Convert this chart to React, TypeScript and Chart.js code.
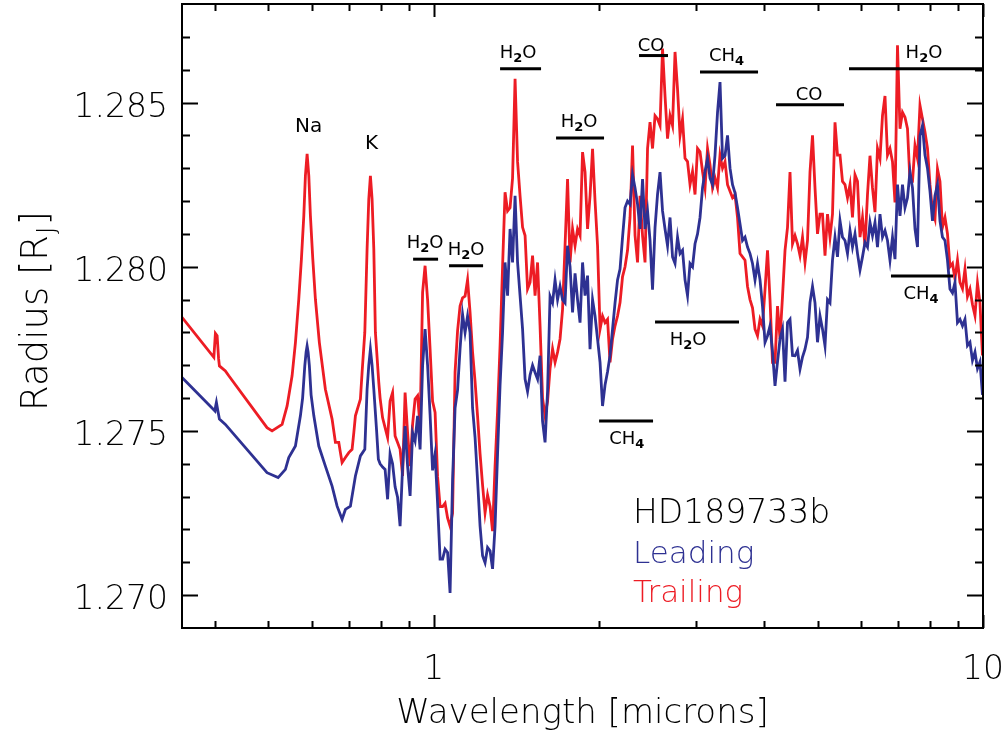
import React, { useEffect, useRef } from 'react';
import { Chart, registerables } from 'chart.js';

Chart.register(...registerables);

// ---------- DATA ----------
// Smooth optical part (microns, Jupiter radii)
const trailingSmoothWl = [0.348, 0.3977, 0.399, 0.4003, 0.4032, 0.4057, 0.4071, 0.4174, 0.4234, 0.497, 0.5077, 0.5185, 0.5295, 0.5407, 0.5521, 0.5599, 0.5678, 0.5741, 0.5799, 0.5838, 0.588, 0.5922, 0.5962, 0.6022, 0.6088, 0.619, 0.6348, 0.6529, 0.6621, 0.6715, 0.6761, 0.6809, 0.6904, 0.7003, 0.71, 0.7152, 0.72, 0.7352, 0.7404, 0.7489, 0.7561, 0.7615, 0.7667, 0.7721, 0.7777, 0.7829, 0.7941];
const trailingSmoothR = [1.27846, 1.27724, 1.2776, 1.27797, 1.2779, 1.2772, 1.27698, 1.27683, 1.27668, 1.2751, 1.275, 1.2751, 1.2752, 1.27576, 1.27668, 1.27769, 1.27901, 1.28023, 1.28155, 1.28277, 1.28344, 1.28277, 1.28155, 1.28023, 1.27901, 1.27769, 1.27627, 1.27536, 1.27465, 1.27465, 1.27434, 1.27404, 1.27419, 1.27434, 1.27444, 1.27495, 1.27546, 1.27597, 1.27678, 1.278, 1.28054, 1.28206, 1.28277, 1.28206, 1.28054, 1.278, 1.27648];

const leadingSmoothWl = [0.348, 0.3996, 0.4007, 0.402, 0.4046, 0.4071, 0.4174, 0.497, 0.5207, 0.5369, 0.5445, 0.5599, 0.5717, 0.577, 0.5823, 0.5855, 0.588, 0.5905, 0.5936, 0.5979, 0.6048, 0.6175, 0.6348, 0.6529, 0.6668, 0.6809, 0.6904, 0.705, 0.72, 0.7352, 0.7489, 0.7561, 0.7615, 0.7667, 0.7721, 0.7777, 0.7869, 0.7927];
const leadingSmoothR = [1.27663, 1.27561, 1.27575, 1.27587, 1.2756, 1.27536, 1.2752, 1.27373, 1.27358, 1.27383, 1.27419, 1.27454, 1.27546, 1.276, 1.27698, 1.2774, 1.27759, 1.2774, 1.27698, 1.2761, 1.27546, 1.27454, 1.27393, 1.27332, 1.27271, 1.27231, 1.27261, 1.27271, 1.27363, 1.27424, 1.27444, 1.27627, 1.277, 1.27749, 1.277, 1.27627, 1.275, 1.27414];

// Infrared part, shared wavelength grid (microns)
const gridWl = [
  0.7985, 0.8069, 0.8154, 0.8240, 0.8326, 0.8414, 0.8503, 0.8592, 0.8683, 0.8774, 0.8867, 0.8960,
  0.9055, 0.9150, 0.9246, 0.9344, 0.9442, 0.9542, 0.9642, 0.9744, 0.9846, 0.9950, 1.0055, 1.0161,
  1.0268, 1.0376, 1.0485, 1.0596, 1.0707, 1.0820, 1.0934, 1.1049, 1.1165, 1.1283, 1.1402, 1.1522,
  1.1643, 1.1766, 1.1890, 1.2015, 1.2142, 1.2270, 1.2399, 1.2530, 1.2662, 1.2795, 1.2930, 1.3066,
  1.3204, 1.3343, 1.3483, 1.3626, 1.3769, 1.3914, 1.4061, 1.4209, 1.4358, 1.4510, 1.4663, 1.4817,
  1.4973, 1.5131, 1.5290, 1.5451, 1.5614, 1.5778, 1.5945, 1.6113, 1.6282, 1.6454, 1.6627, 1.6803,
  1.6979, 1.7158, 1.7339, 1.7522, 1.7706, 1.7893, 1.8081, 1.8272, 1.8464, 1.8659, 1.8855, 1.9054,
  1.9254, 1.9457, 1.9662, 1.9870, 2.0079, 2.0290, 2.0504, 2.0720, 2.0938, 2.1159, 2.1382, 2.1607,
  2.1834, 2.2065, 2.2297, 2.2532, 2.2769, 2.3009, 2.3252, 2.3497, 2.3744, 2.3994, 2.4247, 2.4503,
  2.4760, 2.5021, 2.5285, 2.5551, 2.5820, 2.6092, 2.6367, 2.6645, 2.6925, 2.7209, 2.7496, 2.7786,
  2.8078, 2.8374, 2.8673, 2.8975, 2.9280, 2.9589, 2.9900, 3.0216, 3.0533, 3.0855, 3.1180, 3.1509,
  3.1840, 3.2176, 3.2515, 3.2858, 3.3203, 3.3553, 3.3907, 3.4264, 3.4625, 3.4990, 3.5358, 3.5731,
  3.6107, 3.6487, 3.6872, 3.7261, 3.7652, 3.8049, 3.8450, 3.8856, 3.9264, 3.9678, 4.0096, 4.0519,
  4.0945, 4.1377, 4.1813, 4.2253, 4.2698, 4.3148, 4.3603, 4.4062, 4.4526, 4.4995, 4.5469, 4.5948,
  4.6432, 4.6921, 4.7415, 4.7915, 4.8419, 4.8930, 4.9445, 4.9966, 5.0492, 5.1024, 5.1562, 5.2105,
  5.2653, 5.3208, 5.3769, 5.4336, 5.4907, 5.5486, 5.6071, 5.6662, 5.7258, 5.7861, 5.8471, 5.9087,
  5.9709, 6.0338, 6.0974, 6.1616, 6.2264, 6.2921, 6.3584, 6.4254, 6.4930, 6.5614, 6.6306, 6.7004,
  6.7709, 6.8423, 6.9144, 6.9873, 7.0608, 7.1352, 7.2104, 7.2864, 7.3630, 7.4406, 7.5191, 7.5983,
  7.6782, 7.7591, 7.8409, 7.9235, 8.0069, 8.0913, 8.1766, 8.2627, 8.3496, 8.4377, 8.5266, 8.6164,
  8.7071, 8.7988, 8.8916, 8.9854, 9.0798, 9.1755, 9.2722, 9.3700, 9.4685, 9.5683, 9.6691, 9.7710,
  9.8738, 9.9779,
];

const trailingR = [
  1.27600, 1.27540, 1.27510, 1.27480, 1.27591, 1.27617, 1.27485, 1.27465, 1.27444, 1.27363, 1.27617, 1.27495,
  1.27393, 1.27520, 1.27597, 1.27607, 1.27515, 1.27922, 1.28003, 1.27900, 1.27750, 1.27590, 1.27556, 1.27360,
  1.27270, 1.27270, 1.27280, 1.27235, 1.27210, 1.27250, 1.27680, 1.27805, 1.27880, 1.27905, 1.27910, 1.27960,
  1.27861, 1.27740, 1.27650, 1.27545, 1.27430, 1.27335, 1.27251, 1.27305, 1.27270, 1.27195, 1.27393, 1.27560,
  1.27760, 1.28000, 1.28227, 1.28170, 1.28180, 1.28270, 1.28572, 1.28320, 1.28216, 1.28120, 1.28095, 1.27932,
  1.27952, 1.28034, 1.27912, 1.28013, 1.27820, 1.27600, 1.27546, 1.27590, 1.27690, 1.27750, 1.27709, 1.27740,
  1.27780, 1.27870, 1.28064, 1.28267, 1.28013, 1.28115, 1.28064, 1.28115, 1.28095, 1.28349, 1.28288, 1.28115,
  1.28216, 1.28359, 1.28200, 1.28064, 1.27810, 1.27850, 1.27830, 1.27840, 1.27709, 1.27780, 1.27820, 1.27850,
  1.27891, 1.27970, 1.28000, 1.28050, 1.28150, 1.28369, 1.28095, 1.28013, 1.28216, 1.28095, 1.28013, 1.28360,
  1.28440, 1.28360, 1.28460, 1.28450, 1.28430, 1.28664, 1.28520, 1.28390, 1.28460, 1.28430, 1.28654, 1.28540,
  1.28400, 1.28450, 1.28330, 1.28320, 1.28250, 1.28290, 1.28220, 1.28360, 1.28350, 1.28290, 1.28240, 1.28360,
  1.28310, 1.28240, 1.28270, 1.28240, 1.28340, 1.28300, 1.28320, 1.28250, 1.28230, 1.28210, 1.28220, 1.28150,
  1.28040, 1.28030, 1.28020, 1.27940, 1.27900, 1.27875, 1.27810, 1.27790, 1.27840, 1.27820, 1.27930, 1.28050,
  1.27900, 1.27709, 1.27709, 1.27880, 1.27780, 1.27910, 1.28050, 1.28120, 1.28288, 1.28070, 1.28095, 1.28070,
  1.28034, 1.28090, 1.28013, 1.28080, 1.28288, 1.28400, 1.28240, 1.28100, 1.28160, 1.28160, 1.28034, 1.28160,
  1.28090, 1.28160, 1.28440, 1.28340, 1.28340, 1.28260, 1.28250, 1.28210, 1.28250, 1.28150, 1.28280, 1.28260,
  1.28090, 1.28150, 1.28064, 1.28220, 1.28338, 1.28240, 1.28166, 1.28360, 1.28330, 1.28460, 1.28520, 1.28340,
  1.28360, 1.28320, 1.28196, 1.28674, 1.28420, 1.28470, 1.28455, 1.28420, 1.28260, 1.28260, 1.28369, 1.28330,
  1.28491, 1.28450, 1.28410, 1.28360, 1.28250, 1.28170, 1.28145, 1.28298, 1.28260, 1.28120, 1.28150, 1.28100,
  1.28000, 1.28010, 1.27963, 1.28020, 1.27952, 1.27933, 1.27993, 1.27910, 1.27932, 1.27885, 1.27851, 1.27950,
  1.27890, 1.27730,
];

const leadingR = [
  1.27400, 1.27390, 1.27383, 1.27292, 1.27430, 1.27400, 1.27330, 1.27298, 1.27210, 1.27390, 1.27515, 1.27393,
  1.27302, 1.27495, 1.27470, 1.27546, 1.27444, 1.27698, 1.27810, 1.27700, 1.27550, 1.27380, 1.27430, 1.27280,
  1.27110, 1.27110, 1.27140, 1.27130, 1.27007, 1.27350, 1.27570, 1.27624, 1.27750, 1.27855, 1.27800, 1.27850,
  1.27800, 1.27570, 1.27480, 1.27350, 1.27210, 1.27120, 1.27099, 1.27145, 1.27135, 1.27080, 1.27210, 1.27430,
  1.27640, 1.27800, 1.28013, 1.27912, 1.28115, 1.28013, 1.28216, 1.28013, 1.27912, 1.27810, 1.27658, 1.27620,
  1.27670, 1.27700, 1.27678, 1.27658, 1.27729, 1.27530, 1.27465, 1.27620, 1.27910, 1.27890, 1.27960, 1.27900,
  1.27940, 1.27900, 1.27890, 1.28064, 1.28000, 1.27861, 1.27980, 1.27900, 1.27830, 1.28013, 1.27912, 1.27973,
  1.27749, 1.27900, 1.27850, 1.27780, 1.27709, 1.27576, 1.27640, 1.27680, 1.27730, 1.27810, 1.27890, 1.27960,
  1.27993, 1.28090, 1.28180, 1.28200, 1.28190, 1.28280, 1.28240, 1.28190, 1.28115, 1.28267, 1.28115, 1.28170,
  1.28080, 1.27930, 1.28120, 1.28220, 1.28288, 1.28170, 1.28115, 1.28064, 1.28150, 1.28030, 1.28010, 1.28090,
  1.28040, 1.28050, 1.27960, 1.27912, 1.28010, 1.28000, 1.28070, 1.28100, 1.28150, 1.28240, 1.28290, 1.28330,
  1.28270, 1.28250, 1.28340, 1.28470, 1.28562, 1.28330, 1.28338, 1.28400, 1.28300, 1.28250, 1.28225, 1.28180,
  1.28130, 1.28080, 1.28090, 1.28060, 1.28040, 1.28010, 1.27960, 1.28010, 1.27960, 1.27880, 1.27770, 1.27790,
  1.27820, 1.27740, 1.27637, 1.27710, 1.27780, 1.27810, 1.27650, 1.27830, 1.27840, 1.27730, 1.27729, 1.27745,
  1.27688, 1.27725, 1.27749, 1.27785, 1.27891, 1.27940, 1.27890, 1.27770, 1.27850, 1.27810, 1.27759, 1.27900,
  1.27890, 1.28020, 1.28090, 1.28030, 1.28140, 1.28090, 1.28080, 1.28040, 1.28110, 1.28060, 1.28100, 1.28040,
  1.27990, 1.28030, 1.28074, 1.28060, 1.28135, 1.28095, 1.28135, 1.28060, 1.28160, 1.28090, 1.28110, 1.28080,
  1.28020, 1.28090, 1.28023, 1.28250, 1.28155, 1.28250, 1.28180, 1.28210, 1.28290, 1.28240, 1.28115, 1.28060,
  1.28399, 1.28430, 1.28340, 1.28300, 1.28230, 1.28140, 1.28216, 1.28250, 1.28140, 1.28090, 1.28080, 1.28020,
  1.27932, 1.27920, 1.27952, 1.27830, 1.27840, 1.27820, 1.27840, 1.27760, 1.27770, 1.27715, 1.27740, 1.27690,
  1.27710, 1.27610,
];

// Axis ticks
const xMajorTicks = [1, 10];
const xTickLabels = ['1', '10'];
const xMinorTicks = [0.4, 0.5, 0.6, 0.7, 0.8, 0.9, 2, 3, 4, 5, 6, 7, 8, 9];
const yMajorTicks = [1.27, 1.275, 1.28, 1.285];
const yTickLabels = ['1.270', '1.275', '1.280', '1.285'];
const yMinorTicks = [1.271, 1.272, 1.273, 1.274, 1.276, 1.277, 1.278, 1.279, 1.281, 1.282, 1.283, 1.284, 1.286, 1.287];

// Molecular band markers
const bandNames = ['H2O', 'H2O', 'H2O', 'H2O', 'CO', 'CH4', 'CO', 'H2O', 'CH4', 'H2O', 'CH4'];
const bandStart = [0.917, 1.0662, 1.3204, 1.6697, 2.3645, 3.053, 4.199, 5.702, 6.799, 2.5285, 2.0];
const bandEnd = [1.0182, 1.2296, 1.5679, 2.0418, 2.67, 3.894, 5.584, 10.0, 8.818, 3.5956, 2.5075];
const bandLevel = [1.28023, 1.28003, 1.28603, 1.28392, 1.28643, 1.28593, 1.28493, 1.28603, 1.27972, 1.27832, 1.2753];
const bandLabelWl = [0.964, 1.145, 1.424, 1.839, 2.486, 3.412, 4.822, 7.808, 7.71, 2.904, 2.246];
const bandLabelBelow = [false, false, false, false, false, false, false, false, true, true, true];

// Atomic lines
const lineNames = ['Na', 'K'];
const lineLabelWl = [0.5917, 0.7705];
const lineLabelR = [1.28411, 1.28359];

const legendTitle = 'HD189733b';
const seriesNames = ['Leading', 'Trailing'];
const seriesColors = ['#2e3192', '#ed1c24'];

const FONT = "'DejaVu Sans', 'Liberation Sans', sans-serif";

function pairs(wl: number[], r: number[]) {
  const n = Math.min(wl.length, r.length);
  const out: { x: number; y: number }[] = [];
  for (let i = 0; i < n; i++) out.push({ x: wl[i], y: r[i] });
  return out;
}

function drawChem(ctx: CanvasRenderingContext2D, text: string, cx: number, baseline: number, size: number) {
  const runs: { t: string; sub: boolean }[] = [];
  for (const ch of text) {
    const sub = /[0-9]/.test(ch);
    if (runs.length && runs[runs.length - 1].sub === sub) runs[runs.length - 1].t += ch;
    else runs.push({ t: ch, sub });
  }
  const subSize = Math.round(size * 0.72);
  let total = 0;
  const widths = runs.map((r) => {
    ctx.font = `${r.sub ? 'bold ' : ''}${r.sub ? subSize : size}px ${FONT}`;
    const w = ctx.measureText(r.t).width;
    total += w;
    return w;
  });
  let x = cx - total / 2;
  runs.forEach((r, i) => {
    ctx.font = `${r.sub ? 'bold ' : ''}${r.sub ? subSize : size}px ${FONT}`;
    ctx.fillText(r.t, x, baseline + (r.sub ? size * 0.22 : 0));
    x += widths[i];
  });
}

const overlay = {
  id: 'overlay',
  afterDatasetsDraw(chart: any) {
    const { ctx, chartArea: a, scales } = chart;
    const xs = scales.x;
    const ys = scales.y;
    ctx.save();
    ctx.strokeStyle = '#000';
    ctx.fillStyle = '#000';
    ctx.lineWidth = 2;
    ctx.lineCap = 'butt';
    // frame
    ctx.strokeRect(a.left, a.top, a.right - a.left, a.bottom - a.top);
    // x ticks
    const xTick = (v: number, len: number) => {
      const px = Math.round(xs.getPixelForValue(v)) + 0.5;
      ctx.beginPath();
      ctx.moveTo(px, a.bottom);
      ctx.lineTo(px, a.bottom - len);
      ctx.moveTo(px, a.top);
      ctx.lineTo(px, a.top + len);
      ctx.stroke();
    };
    xMinorTicks.forEach((v) => xTick(v, 7));
    xMajorTicks.forEach((v) => xTick(v, 13));
    const yTick = (v: number, len: number) => {
      const py = Math.round(ys.getPixelForValue(v)) + 0.5;
      ctx.beginPath();
      ctx.moveTo(a.left, py);
      ctx.lineTo(a.left + len, py);
      ctx.moveTo(a.right, py);
      ctx.lineTo(a.right - len, py);
      ctx.stroke();
    };
    yMinorTicks.forEach((v) => yTick(v, 8));
    yMajorTicks.forEach((v) => yTick(v, 16));

    // tick labels
    ctx.font = `200 33px ${FONT}`;
    ctx.textBaseline = 'alphabetic';
    ctx.textAlign = 'right';
    yMajorTicks.forEach((v, i) => {
      ctx.fillText(yTickLabels[i], a.left - 14, ys.getPixelForValue(v) + 14);
    });
    ctx.textAlign = 'center';
    xMajorTicks.forEach((v, i) => {
      ctx.fillText(xTickLabels[i], xs.getPixelForValue(v), a.bottom + 51);
    });

    // axis titles
    ctx.font = `200 34px ${FONT}`;
    ctx.fillText('Wavelength [microns]', (a.left + a.right) / 2, a.bottom + 95);
    ctx.save();
    ctx.translate(47, (a.top + a.bottom) / 2 - 5);
    ctx.rotate(-Math.PI / 2);
    ctx.textAlign = 'left';
    const big = `200 37px ${FONT}`;
    const small = `200 25px ${FONT}`;
    ctx.font = big;
    const w1 = ctx.measureText('Radius [R').width;
    ctx.font = small;
    const w2 = ctx.measureText('J').width;
    ctx.font = big;
    const w3 = ctx.measureText(']').width;
    const start = -(w1 + w2 + 2 + w3) / 2;
    ctx.font = big;
    ctx.fillText('Radius [R', start, 0);
    ctx.font = small;
    ctx.fillText('J', start + w1 + 1, 7);
    ctx.font = big;
    ctx.fillText(']', start + w1 + w2 + 2, 0);
    ctx.restore();

    // band markers
    ctx.lineWidth = 3;
    ctx.textAlign = 'left';
    for (let i = 0; i < bandNames.length; i++) {
      const x0 = xs.getPixelForValue(bandStart[i]);
      const x1 = Math.min(xs.getPixelForValue(bandEnd[i]), a.right);
      const y = ys.getPixelForValue(bandLevel[i]);
      ctx.beginPath();
      ctx.moveTo(x0, y);
      ctx.lineTo(x1, y);
      ctx.stroke();
      const cx = xs.getPixelForValue(bandLabelWl[i]);
      const isCO = bandNames[i] === 'CO';
      const base = bandLabelBelow[i] ? y + 23 : y - (isCO ? 5 : 11);
      drawChem(ctx, bandNames[i], cx, base, 18);
    }
    // atomic line labels
    ctx.font = `20px ${FONT}`;
    ctx.textAlign = 'center';
    lineNames.forEach((n, i) => {
      ctx.fillText(n, xs.getPixelForValue(lineLabelWl[i]), ys.getPixelForValue(lineLabelR[i]));
    });

    // legend text
    ctx.textAlign = 'left';
    ctx.font = `200 33px ${FONT}`;
    ctx.fillStyle = '#000';
    ctx.fillText(legendTitle, 633, 523);
    ctx.font = `200 31px ${FONT}`;
    ctx.fillStyle = seriesColors[0];
    ctx.fillText(seriesNames[0], 633, 563);
    ctx.fillStyle = seriesColors[1];
    ctx.fillText(seriesNames[1], 633, 602);
    ctx.restore();
  },
};

export default function App() {
  const ref = useRef<HTMLCanvasElement>(null);
  useEffect(() => {
    if (!ref.current) return;
    const leading = [...pairs(leadingSmoothWl, leadingSmoothR), ...pairs(gridWl, leadingR)];
    const trailing = [...pairs(trailingSmoothWl, trailingSmoothR), ...pairs(gridWl, trailingR)];
    const chart = new Chart(ref.current, {
      type: 'line',
      data: {
        datasets: [
          { label: seriesNames[0], data: leading, borderColor: seriesColors[0], borderWidth: 2.8, pointRadius: 0, tension: 0, order: 0 },
          { label: seriesNames[1], data: trailing, borderColor: seriesColors[1], borderWidth: 2.8, pointRadius: 0, tension: 0, order: 1 },
        ],
      },
      options: {
        responsive: false,
        animation: false,
        devicePixelRatio: 1,
        parsing: false,
        normalized: true,
        layout: { padding: { left: 182, top: 4, right: 25, bottom: 108 } },
        plugins: { legend: { display: false }, tooltip: { enabled: false } },
        scales: {
          x: { type: 'logarithmic', min: 0.348, max: 10, bounds: 'data', display: false },
          y: { type: 'linear', min: 1.269, max: 1.288, bounds: 'data', display: false },
        },
      },
      plugins: [overlay],
    } as any);
    return () => chart.destroy();
  }, []);
  return (
    <div style={{ position: 'fixed', left: 0, top: 0, width: 1008, height: 736, background: '#fff' }}>
      <canvas ref={ref} width={1008} height={736} style={{ width: 1008, height: 736, display: 'block' }} />
    </div>
  );
}
